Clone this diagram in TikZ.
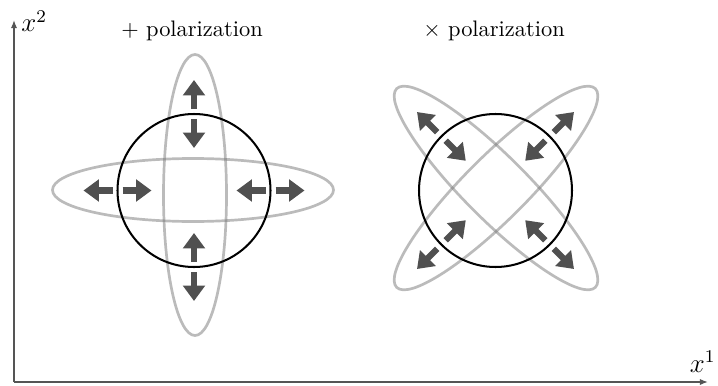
\documentclass[tikz,border=0pt]{standalone}
\usepackage{amsmath,amssymb}
\usepackage{xcolor}
\usepackage{tikz}
\usetikzlibrary{arrows.meta,calc}
\definecolor{axisgray}{RGB}{85,85,85}
\definecolor{arrowgray}{RGB}{80,80,80}
\definecolor{ringgray}{RGB}{120,120,120}
\tikzset{
  axisline/.style={draw=axisgray,line width=0.7pt,-{Latex[length=3.6pt,width=2.8pt]}},
  ring/.style={draw=ringgray,draw opacity=0.5,line width=1.2pt},
  strain/.style={draw=arrowgray,line width=2.7pt,-{Triangle[length=6.9pt,width=9.6pt]}},
  probe/.style={draw=black,line width=0.9pt}
}

\begin{document}
\begin{tikzpicture}[x=0.446pt,y=0.446pt]
    \useasboundingbox (0,0) rectangle (718,385);

    % Ejes.
    \coordinate (O) at (14,3);
    \coordinate (xtip) at (708,3);
    \coordinate (ytip) at (14,365);
    \draw[axisline] (O) -- (xtip);
    \draw[axisline] (O) -- (ytip);
    \node[anchor=base west,inner sep=0,font=\large] (xtwo) at (21,353) {$x^2$};
    \node[anchor=base east,inner sep=0,font=\large] (xone) at (716,13) {$x^1$};

    % Polarización +.
    \node[anchor=base] (plustitle) at (192,349) {$+$ polarization};
    \draw[ring] (193,195) ellipse [x radius=140.5,y radius=31.5];
    \draw[ring] (195,190) ellipse [x radius=31.5,y radius=140.5];
    \coordinate (pc) at (194,194.5);
    \draw[probe] (pc) circle [radius=76.5];
    \foreach \a in {0,90,180,270}{
      \draw[strain] ($(pc)+(\a:81.5)$) -- ($(pc)+(\a:110.5)$);
      \draw[strain] ($(pc)+(\a:71.5)$) -- ($(pc)+(\a:42.5)$);
    }

    % Polarización x.
    \node[anchor=base] (crosstitle) at (494,349) {$\times$ polarization};
    \draw[ring] (496,197) ellipse [x radius=140.5,y radius=31.5,rotate=45];
    \draw[ring] (496,197) ellipse [x radius=140.5,y radius=31.5,rotate=-45];
    \coordinate (cc) at (495.5,194.5);
    \draw[probe] (cc) circle [radius=76.5];
    \foreach \a in {45,135,225,315}{
      \draw[strain] ($(cc)+(\a:82.5)$) -- ($(cc)+(\a:111)$);
      \draw[strain] ($(cc)+(\a:70.5)$) -- ($(cc)+(\a:42)$);
    }
  \end{tikzpicture}
\end{document}
